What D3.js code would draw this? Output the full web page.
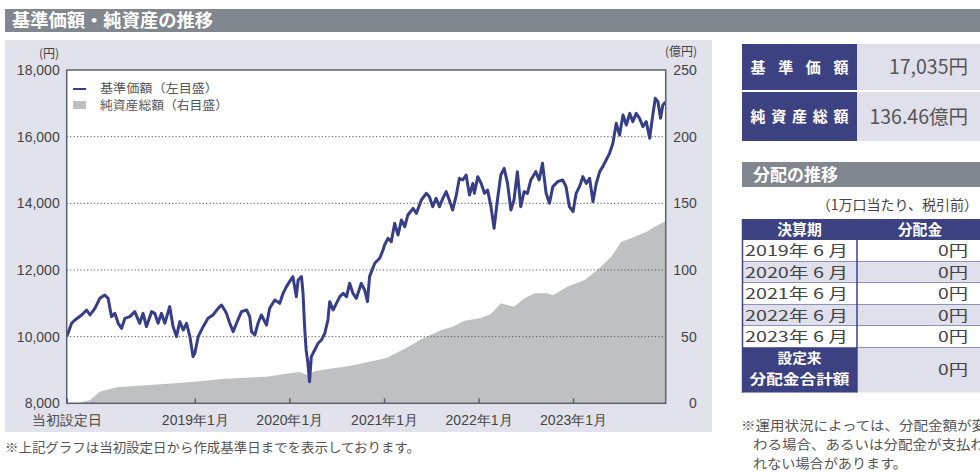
<!DOCTYPE html>
<html><head><meta charset="utf-8">
<script src="https://cdn.jsdelivr.net/npm/d3@7"></script>
<style>
body{margin:0;background:#fff}
svg{display:block;font-family:"Noto Sans CJK JP","Noto Sans",sans-serif}
</style>
</head><body>
<svg id="c" width="980" height="475"></svg>
<script>
// ---------- data ----------
const navDates = ["2017-08-24","2017-09-12","2017-09-25","2017-10-21","2017-11-09","2017-11-22","2017-12-11","2017-12-30","2018-01-18","2018-01-31","2018-02-13","2018-02-26","2018-03-11","2018-03-24","2018-04-06","2018-04-25","2018-05-14","2018-06-02","2018-06-15","2018-06-28","2018-07-18","2018-07-30","2018-08-12","2018-08-25","2018-09-07","2018-09-26","2018-10-09","2018-10-22","2018-11-04","2018-11-17","2018-11-30","2018-12-13","2018-12-25","2019-01-01","2019-01-14","2019-02-02","2019-02-21","2019-03-12","2019-04-01","2019-04-14","2019-04-26","2019-05-03","2019-05-16","2019-05-29","2019-06-11","2019-06-30","2019-07-20","2019-08-01","2019-08-08","2019-08-21","2019-09-02","2019-09-15","2019-10-05","2019-10-17","2019-11-06","2019-11-25","2019-12-08","2019-12-21","2020-01-02","2020-01-15","2020-01-28","2020-02-04","2020-02-17","2020-02-23","2020-02-29","2020-03-06","2020-03-13","2020-03-19","2020-03-26","2020-04-08","2020-04-21","2020-05-04","2020-05-17","2020-05-29","2020-06-05","2020-06-18","2020-07-01","2020-07-14","2020-07-27","2020-08-09","2020-08-21","2020-09-03","2020-09-16","2020-10-05","2020-10-18","2020-10-29","2020-11-06","2020-11-26","2020-12-15","2020-12-28","2021-01-03","2021-01-16","2021-01-29","2021-02-11","2021-02-24","2021-03-09","2021-03-22","2021-04-03","2021-04-23","2021-05-06","2021-05-25","2021-06-13","2021-06-25","2021-07-08","2021-07-21","2021-08-03","2021-08-16","2021-08-29","2021-09-10","2021-09-23","2021-10-06","2021-10-19","2021-11-01","2021-11-14","2021-11-27","2021-12-10","2021-12-16","2021-12-29","2022-01-11","2022-01-24","2022-02-05","2022-02-18","2022-03-02","2022-03-15","2022-03-28","2022-04-10","2022-04-23","2022-05-06","2022-05-18","2022-05-31","2022-06-13","2022-06-26","2022-07-09","2022-07-22","2022-08-10","2022-08-23","2022-09-05","2022-09-19","2022-10-02","2022-10-15","2022-11-03","2022-11-22","2022-12-05","2022-12-18","2023-01-01","2023-01-13","2023-01-26","2023-02-08","2023-02-21","2023-03-06","2023-03-19","2023-04-01","2023-04-14","2023-04-26","2023-05-09","2023-05-22","2023-06-04","2023-06-17","2023-06-30","2023-07-13","2023-07-26","2023-08-08","2023-08-20","2023-09-02","2023-09-15","2023-09-28","2023-10-11","2023-10-24","2023-11-06","2023-11-15","2023-11-25","2023-12-05","2023-12-14","2023-12-25"];
const navValues = [10000,10400,10500,10650,10800,10650,10850,11150,11250,11150,10600,10700,10400,10250,10550,10600,10750,10400,10700,10300,10750,10700,10400,10700,10400,10900,10300,10000,10450,10200,10400,10000,9400,9500,10000,10300,10550,10650,10850,10950,10800,10700,10400,10150,10400,10750,10800,10600,10150,10050,10400,10650,10350,10850,11100,11000,11300,11500,11650,11800,11200,11700,11800,11300,10300,9600,9200,8650,9400,9600,9800,9900,10100,10500,11050,10800,11000,11200,11300,11200,11600,11300,11150,11600,11400,11050,11800,12200,12350,12600,12750,12950,12850,13400,13050,13500,13300,13650,13850,13700,14100,14300,14200,13900,14150,13900,14150,14350,14100,13800,14200,14750,14700,14850,14250,14600,14300,14800,14600,14300,14400,13900,13250,14100,14850,15050,14600,13800,14100,14950,13900,14350,14300,14700,14950,14700,15200,14300,14000,14500,14650,14700,14500,13900,13750,14300,14500,14800,14600,14750,14050,14600,14950,15100,15300,15500,15800,16400,16050,16650,16350,16700,16450,16700,16550,16300,16450,15950,16700,17150,17050,16550,16950,17035];

const assetDates = ["2017-08-24","2017-10-14","2017-11-22","2017-12-30","2018-03-04","2018-07-11","2018-10-15","2019-01-20","2019-04-27","2019-10-05","2020-01-02","2020-02-09","2020-03-12","2020-04-08","2020-06-05","2020-08-21","2020-11-01","2021-01-10","2021-04-02","2021-05-19","2021-08-10","2021-09-23","2021-11-08","2022-01-10","2022-02-18","2022-03-28","2022-05-18","2022-06-26","2022-08-05","2022-09-24","2022-10-15","2022-12-10","2023-02-15","2023-04-05","2023-05-29","2023-07-06","2023-08-27","2023-10-16","2023-11-12","2023-12-25"];
const assetValues = [0,0.5,2.5,8.7,12,13.7,15,16.5,18.5,20,22.5,23.5,21,24,26,28,31,34,42,47.5,55,57.5,62,64,67,75,72.5,78.7,82.5,82.5,81,87.5,92.5,100,110,121,125,129,132.5,136.46];

const leftTicks = [8000,10000,12000,14000,16000,18000];
const rightTicks = [0,50,100,150,200,250];
const xTickDates = ["2017-08-24","2019-01-01","2020-01-01","2021-01-01","2022-01-01","2023-01-01"];
const xTickLabels = ["当初設定日","2019年1月","2020年1月","2021年1月","2022年1月","2023年1月"];

const seriesNames = ["基準価額（左目盛）","純資産総額（右目盛）"];
const infoLabels = ["基 準 価 額","純資産総額"];
const infoValues = ["17,035円","136.46億円"];
const distHeaders = ["決算期","分配金"];
const distPeriods = ["2019年 6 月","2020年 6 月","2021年 6 月","2022年 6 月","2023年 6 月"];
const distAmounts = ["0円","0円","0円","0円","0円"];
const distTotalLabel = ["設定来","分配金合計額"];
const distTotal = "0円";

// ---------- drawing ----------
const NAVY = "#3c4281", GRAYBAR = "#80878e", PANEL = "#e1e2eb", LAV = "#e0e0ec", TXT = "#444";
const svg = d3.select("#c");
const parse = d3.timeParse("%Y-%m-%d");

// title bar
svg.append("rect").attr("x",5).attr("y",9).attr("width",975).attr("height",23).attr("fill",GRAYBAR);
svg.append("text").attr("x",12).attr("y",27).attr("fill","#fff").attr("font-size",18).attr("font-weight",700)
  .attr("textLength",201).attr("lengthAdjust","spacingAndGlyphs").text("基準価額・純資産の推移");

// chart panel
svg.append("rect").attr("x",5).attr("y",40).attr("width",707).attr("height",392).attr("fill",PANEL);

const M = {left:66.7, right:665.7, top:70, bottom:403.3};
const nav = navDates.map((d,i)=>({date:parse(d), v:navValues[i]}));
const assets = assetDates.map((d,i)=>({date:parse(d), v:assetValues[i]}));

const x = d3.scaleTime().domain(d3.extent(nav, d=>d.date)).range([M.left, M.right]);
const yL = d3.scaleLinear().domain([8000,18000]).range([M.bottom, M.top]);
const yR = d3.scaleLinear().domain([0,250]).range([M.bottom, M.top]);

svg.append("rect").attr("x",M.left).attr("y",M.top).attr("width",M.right-M.left).attr("height",M.bottom-M.top).attr("fill","#fff");
svg.append("clipPath").attr("id","clip").append("rect").attr("x",M.left).attr("y",M.top).attr("width",M.right-M.left).attr("height",M.bottom-M.top);

const plot = svg.append("g").attr("clip-path","url(#clip)");
plot.append("path").datum(assets).attr("fill","#bfc0c2")
  .attr("d", d3.area().x(d=>x(d.date)).y0(yR(0)).y1(d=>yR(d.v)));

// gridlines
svg.append("g").selectAll("line").data(leftTicks.filter(v=>v>8000&&v<18000)).join("line")
  .attr("x1",M.left).attr("x2",M.right).attr("y1",d=>yL(d)).attr("y2",d=>yL(d))
  .attr("stroke","#555").attr("stroke-width",1).attr("stroke-dasharray","1.2,2.2");

plot.append("path").datum(nav).attr("fill","none").attr("stroke","#373e88").attr("stroke-width",3)
  .attr("stroke-linejoin","round").attr("d", d3.line().x(d=>x(d.date)).y(d=>yL(d.v)));

// frame
svg.append("rect").attr("x",M.left).attr("y",M.top).attr("width",M.right-M.left).attr("height",M.bottom-M.top)
  .attr("fill","none").attr("stroke","#5c6070").attr("stroke-width",1.5);

// axes
const styleAxis = g => { g.select(".domain").remove(); g.selectAll("text").attr("fill",TXT).attr("font-size",14).attr("font-family",null); };
svg.append("g").attr("transform",`translate(${M.left},0)`)
  .call(d3.axisLeft(yL).tickValues(leftTicks).tickFormat(d3.format(",")).tickSize(0).tickPadding(7))
  .call(styleAxis);
svg.append("g").attr("transform",`translate(${M.right},0)`)
  .call(d3.axisRight(yR).tickValues(rightTicks).tickSize(0).tickPadding(31))
  .call(styleAxis).call(g=>g.selectAll("text").attr("text-anchor","end"));
svg.append("g").attr("transform",`translate(0,${M.bottom})`)
  .call(d3.axisBottom(x).tickValues(xTickDates.map(parse)).tickFormat((d,i)=>xTickLabels[i]).tickSizeInner(-5).tickSizeOuter(0).tickPadding(12))
  .call(styleAxis)
  .call(g=>g.selectAll("line").attr("stroke","#5c6070").attr("stroke-width",1.5));

svg.append("text").attr("x",59).attr("y",58).attr("text-anchor","end").attr("font-size",12).attr("fill",TXT).text("(円)");
svg.append("text").attr("x",697).attr("y",56).attr("text-anchor","end").attr("font-size",12).attr("fill",TXT).text("(億円)");

// legend
svg.append("line").attr("x1",73).attr("x2",86).attr("y1",89).attr("y2",89).attr("stroke","#373e88").attr("stroke-width",2);
svg.append("rect").attr("x",73).attr("y",101).attr("width",13).attr("height",8).attr("fill","#bfc0c2");
svg.selectAll(".leg").data(seriesNames).join("text").attr("class","leg")
  .attr("x",100).attr("y",(d,i)=>93+i*17).attr("font-size",12).attr("fill","#555")
  .attr("textLength",(d,i)=> i===0 ? 118 : 128).attr("lengthAdjust","spacingAndGlyphs").text(d=>d);

// footnote
svg.append("text").attr("x",5).attr("y",452).attr("font-size",13).attr("fill","#555")
  .attr("textLength",415).attr("lengthAdjust","spacingAndGlyphs")
  .text("※上記グラフは当初設定日から作成基準日までを表示しております。");

// ---------- right side ----------
const RX = 742, RW = 980-742, CX = 857;
const infoTop = [44, 92], infoH = [46, 49];
infoLabels.forEach((lab,i)=>{
  svg.append("rect").attr("x",RX).attr("y",infoTop[i]).attr("width",RW).attr("height",infoH[i]).attr("fill",LAV);
  svg.append("rect").attr("x",RX).attr("y",infoTop[i]).attr("width",CX-RX).attr("height",infoH[i]).attr("fill",NAVY);
  svg.append("text").attr("x",(RX+CX)/2).attr("y",infoTop[i]+infoH[i]/2+5.5).attr("text-anchor","middle")
    .attr("fill","#fff").attr("font-size",15).attr("font-weight",700).attr("textLength",98).attr("lengthAdjust","spacing").text(lab);
  svg.append("text").attr("x",968).attr("y",infoTop[i]+infoH[i]/2+7).attr("text-anchor","end")
    .attr("fill","#555").attr("font-size",19.5).text(infoValues[i]);
});

svg.append("rect").attr("x",RX).attr("y",162).attr("width",RW).attr("height",25).attr("fill",GRAYBAR);
svg.append("text").attr("x",753).attr("y",181).attr("fill","#fff").attr("font-size",17).attr("font-weight",700).text("分配の推移");
svg.append("text").attr("x",978).attr("y",210).attr("text-anchor","end").attr("fill",TXT).attr("font-size",14).text("（1万口当たり、税引前）");

const tTop = 219, hH = 21, rH = 21.5, totH = 45;
svg.append("rect").attr("x",RX).attr("y",tTop).attr("width",RW).attr("height",hH).attr("fill",NAVY);
svg.selectAll(".hd").data(distHeaders).join("text").attr("class","hd")
  .attr("x",(d,i)=> i===0 ? (RX+CX)/2 : 920).attr("y",tTop+hH/2+5.3).attr("text-anchor","middle")
  .attr("fill","#fff").attr("font-size",14.8).attr("font-weight",700).text(d=>d);
const rowsG = svg.append("g");
distPeriods.forEach((p,i)=>{
  const y0 = tTop+hH+i*rH;
  rowsG.append("rect").attr("x",RX).attr("y",y0).attr("width",RW).attr("height",rH).attr("fill", i%2 ? LAV : "#fff");
  rowsG.append("text").attr("x",745).attr("y",y0+rH/2+5.4).attr("fill",TXT).attr("font-size",14.8)
    .attr("textLength",103).attr("lengthAdjust","spacingAndGlyphs").text(p);
  rowsG.append("text").attr("x",968).attr("y",y0+rH/2+5.4).attr("text-anchor","end").attr("fill",TXT).attr("font-size",14.8)
    .attr("textLength",30).attr("lengthAdjust","spacingAndGlyphs").text(distAmounts[i]);
  rowsG.append("line").attr("x1",RX).attr("x2",980).attr("y1",y0+rH).attr("y2",y0+rH).attr("stroke",NAVY).attr("stroke-width",1);
});
const totY = tTop+hH+distPeriods.length*rH;
svg.append("rect").attr("x",RX).attr("y",totY).attr("width",RW).attr("height",totH).attr("fill",LAV);
svg.append("rect").attr("x",RX).attr("y",totY).attr("width",CX-RX).attr("height",totH).attr("fill",NAVY);
distTotalLabel.forEach((t,i)=>{
  svg.append("text").attr("x",(RX+CX)/2).attr("y",totY+15.5+i*20.5).attr("text-anchor","middle").attr("fill","#fff")
    .attr("font-size",14).attr("font-weight",700)
    .attr("textLength", i===0 ? 44 : 100).attr("lengthAdjust","spacingAndGlyphs").text(t);
});
svg.append("text").attr("x",968).attr("y",totY+totH/2+5.4).attr("text-anchor","end").attr("fill",TXT).attr("font-size",14.8)
  .attr("textLength",30).attr("lengthAdjust","spacingAndGlyphs").text(distTotal);
// table lines
svg.append("line").attr("x1",RX+0.5).attr("x2",RX+0.5).attr("y1",tTop).attr("y2",totY+totH).attr("stroke",NAVY).attr("stroke-width",1.5);
svg.append("line").attr("x1",CX).attr("x2",CX).attr("y1",tTop).attr("y2",totY+totH).attr("stroke",NAVY).attr("stroke-width",1.5);

const notes = ["※運用状況によっては、分配金額が変","わる場合、あるいは分配金が支払わ","れない場合があります。"];
const noteW = [245, 232, 154];
svg.selectAll(".nt").data(notes).join("text").attr("class","nt")
  .attr("x",(d,i)=> i===0 ? 741 : 753).attr("y",(d,i)=>429.5+i*19).attr("fill","#555").attr("font-size",13)
  .attr("textLength",(d,i)=>noteW[i]).attr("lengthAdjust","spacingAndGlyphs").text(d=>d);
</script>
</body></html>
